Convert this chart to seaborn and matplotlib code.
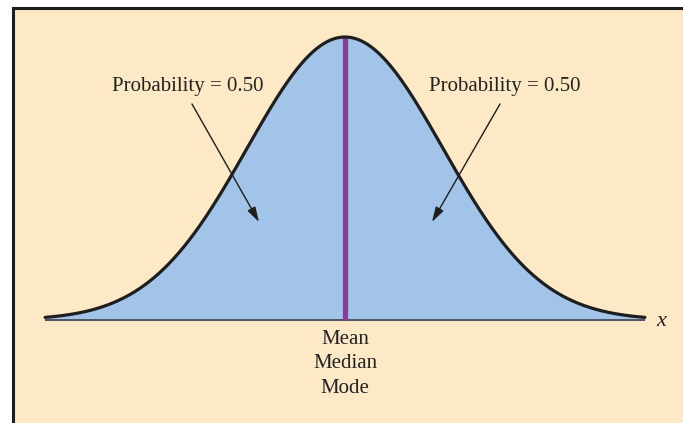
import numpy as np
import pandas as pd
import seaborn as sns
import matplotlib.pyplot as plt
from matplotlib.patches import Rectangle
from matplotlib.lines import Line2D

# --- data ---
mean = 0.0
sd = 1.0
z_limits = [-3.06, 3.06]
label_left = "Probability = 0.50"
label_right = "Probability = 0.50"
center_labels = ["Mean", "Median", "Mode"]
axis_label = "x"

z = np.linspace(z_limits[0], z_limits[1], 600)
dens = np.exp(-0.5 * ((z - mean) / sd) ** 2) / (sd * np.sqrt(2 * np.pi))
df = pd.DataFrame({"z": z, "density": dens})
peak = dens.max()

# --- colours ---
BEIGE = "#FEE9C6"
BLUE = "#A2C4E8"
PURPLE = "#8E3A96"
DARK = "#1e1e1e"

sns.set_theme(style="white")
plt.rcParams["font.family"] = ["Liberation Serif", "DejaVu Serif"]

W, H = 683, 423
fig = plt.figure(figsize=(W / 100, H / 100), dpi=100)
fig.patch.set_facecolor("white")

# panel background with left / top border
fig.patches.append(Rectangle((12.5 / W, 0), 1, 1 - 8.5 / H, transform=fig.transFigure,
                             facecolor=BEIGE, edgecolor="none", zorder=-10))
fig.lines.append(Line2D([12.5 / W, 12.5 / W], [0, 1 - 8 / H], transform=fig.transFigure,
                        color=DARK, lw=2.2, solid_capstyle="projecting", zorder=-5))
fig.lines.append(Line2D([12.5 / W, 1], [1 - 8 / H, 1 - 8 / H], transform=fig.transFigure,
                        color=DARK, lw=2.2, solid_capstyle="projecting", zorder=-5))

ax = fig.add_axes([0, 0, 1, 1])
ax.set_facecolor("none")
ax.patch.set_alpha(0)

# pixel mapping: x_px = 345 + 98*z ; y_px = 320 - (283/peak)*d
sx = 98.0
sy = 283.0 / peak
ax.set_xlim(-345 / sx, (W - 345) / sx)
ax.set_ylim(-(H - 320) / sy, 320 / sy)
ax.axis("off")

ax.fill_between(df["z"], 0, df["density"], color=BLUE, lw=0, zorder=1)
ax.plot([z_limits[0], z_limits[1]], [0, 0], color="#4d5560", lw=1.4, zorder=2,
        solid_capstyle="butt")
sns.lineplot(data=df, x="z", y="density", ax=ax, color=DARK, lw=2.3, zorder=4,
             sort=False)
ax.plot([mean, mean], [0, peak], color=PURPLE, lw=3.8, zorder=3, solid_capstyle="butt")


def fp(x, y):
    return (x, H - y)


arrow = dict(arrowstyle="-|>,head_length=0.75,head_width=0.22", lw=1.0, color=DARK,
             shrinkA=0, shrinkB=0)
ax.annotate("", xy=fp(259, 222), xytext=fp(192, 104), xycoords="figure pixels",
            textcoords="figure pixels", arrowprops=arrow, zorder=5)
ax.annotate("", xy=fp(432, 222), xytext=fp(500, 104), xycoords="figure pixels",
            textcoords="figure pixels", arrowprops=arrow, zorder=5)

fig.text(187.5 / W, 1 - 87 / H, label_left, ha="center", va="center", fontsize=15,
         color="#222222")
fig.text(505 / W, 1 - 87 / H, label_right, ha="center", va="center", fontsize=15,
         color="#222222")
for i, t in enumerate(center_labels):
    fig.text(345 / W, 1 - (339 + 24.5 * i) / H, t, ha="center", va="center",
             fontsize=15, color="#222222")
fig.text(661 / W, 1 - 321 / H, axis_label, ha="center", va="center", fontsize=16,
         style="italic", color="#222222")

fig.savefig("out.png", dpi=100)
